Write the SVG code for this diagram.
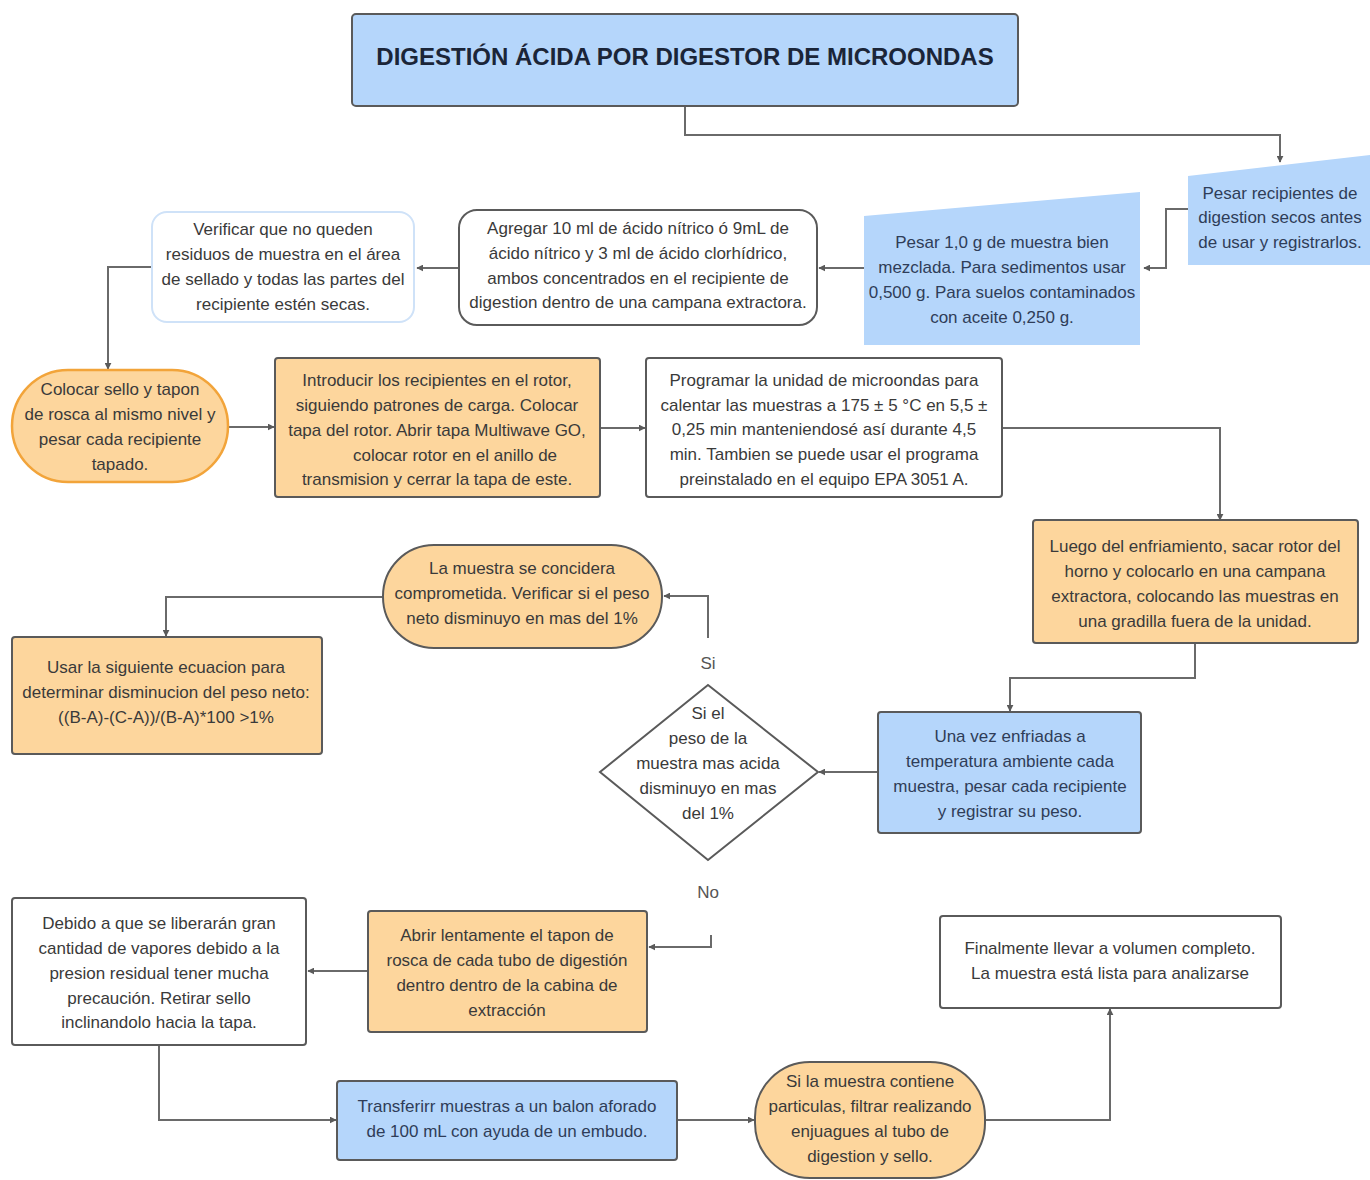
<svg xmlns="http://www.w3.org/2000/svg" width="1370" height="1180" viewBox="0 0 1370 1180">
  <style>
    text { font-family: "Liberation Sans", Arial, sans-serif; font-size: 17px; fill: #3a3a3a; text-anchor: middle; }
    .title { font-size: 24px; font-weight: bold; fill: #1b2538; }
    .onblue { fill: #2f3d58; }
    .lbl { fill: #555; }
    .blue { fill: #b5d6fb; stroke: #5a5a5a; stroke-width: 2; }
    .blueflat { fill: #b5d6fb; stroke: none; }
    .orange { fill: #fdd69d; stroke: #5a5a5a; stroke-width: 2; }
    .orangeedge { fill: #fdd69d; stroke: #f2a43a; stroke-width: 2.5; }
    .white { fill: #ffffff; stroke: #5a5a5a; stroke-width: 2; }
    .paleedge { fill: #ffffff; stroke: #cfe2f8; stroke-width: 2; }
    .conn { fill: none; stroke: #6a6a6a; stroke-width: 2; }
  </style>
  <defs>
    <marker id="arrow" viewBox="0 0 10 10" refX="9" refY="5" markerWidth="7" markerHeight="7" orient="auto" markerUnits="userSpaceOnUse">
      <path d="M0,0 L10,5 L0,10 z" fill="#5a5a5a"/>
    </marker>
  </defs>
  <rect width="1370" height="1180" fill="#ffffff"/>

  <!-- connectors -->
  <g id="connectors">
    <path class="conn" d="M685,106 V135 H1280 V162" marker-end="url(#arrow)"/>
    <path class="conn" d="M1188,209 H1166 V268 H1144" marker-end="url(#arrow)"/>
    <path class="conn" d="M864,268 H819" marker-end="url(#arrow)"/>
    <path class="conn" d="M459,268 H417" marker-end="url(#arrow)"/>
    <path class="conn" d="M152,267 H108 V369" marker-end="url(#arrow)"/>
    <path class="conn" d="M228,427 H274" marker-end="url(#arrow)"/>
    <path class="conn" d="M600,428 H645" marker-end="url(#arrow)"/>
    <path class="conn" d="M1002,428 H1220 V520" marker-end="url(#arrow)"/>
    <path class="conn" d="M1195,643 V678 H1010 V711" marker-end="url(#arrow)"/>
    <path class="conn" d="M878,772 H819" marker-end="url(#arrow)"/>
    <path class="conn" d="M708,638 V596 H664" marker-end="url(#arrow)"/>
    <path class="conn" d="M383,597 H166 V636" marker-end="url(#arrow)"/>
    <path class="conn" d="M711,935 V947 H649" marker-end="url(#arrow)"/>
    <path class="conn" d="M368,971 H308" marker-end="url(#arrow)"/>
    <path class="conn" d="M159,1045 V1120 H336" marker-end="url(#arrow)"/>
    <path class="conn" d="M677,1120 H754" marker-end="url(#arrow)"/>
    <path class="conn" d="M985,1120 H1110 V1009" marker-end="url(#arrow)"/>
    <text class="lbl" x="708" y="669">Si</text>
    <text class="lbl" x="708" y="898">No</text>
  </g>

  <g id="title">
    <rect class="blue" x="352" y="14" width="666" height="92" rx="4"/>
    <text class="title" x="685" y="65">DIGESTIÓN ÁCIDA POR DIGESTOR DE MICROONDAS</text>
  </g>

  <g id="pesar-recipientes">
    <polygon class="blueflat" points="1188,176 1370,155 1370,265 1188,265"/>
    <text class="onblue" x="1280" y="199">Pesar recipientes de</text>
    <text class="onblue" x="1280" y="223">digestion secos antes</text>
    <text class="onblue" x="1280" y="248">de usar y registrarlos.</text>
  </g>

  <g id="pesar-muestra">
    <polygon class="blueflat" points="864,216 1140,192 1140,345 864,345"/>
    <text class="onblue" x="1002" y="248">Pesar 1,0 g de muestra bien</text>
    <text class="onblue" x="1002" y="273">mezclada. Para sedimentos usar</text>
    <text class="onblue" x="1002" y="298">0,500 g. Para suelos contaminados</text>
    <text class="onblue" x="1002" y="323">con aceite 0,250 g.</text>
  </g>

  <g id="agregar">
    <rect class="white" x="459" y="210" width="358" height="115" rx="18"/>
    <text x="638" y="234">Agregar 10 ml de ácido nítrico ó 9mL de</text>
    <text x="638" y="259">ácido nítrico y 3 ml de ácido clorhídrico,</text>
    <text x="638" y="284">ambos concentrados en el recipiente de</text>
    <text x="638" y="308">digestion dentro de una campana extractora.</text>
  </g>

  <g id="verificar">
    <rect class="paleedge" x="152" y="212" width="262" height="110" rx="15"/>
    <text x="283" y="235">Verificar que no queden</text>
    <text x="283" y="260">residuos de muestra en el área</text>
    <text x="283" y="285">de sellado y todas las partes del</text>
    <text x="283" y="310">recipiente estén secas.</text>
  </g>

  <g id="colocar-sello">
    <rect class="orangeedge" x="12" y="370" width="216" height="112" rx="56"/>
    <text x="120" y="395">Colocar sello y tapon</text>
    <text x="120" y="420">de rosca al mismo nivel y</text>
    <text x="120" y="445">pesar cada recipiente</text>
    <text x="120" y="470">tapado.</text>
  </g>

  <g id="introducir">
    <rect class="orange" x="275" y="358" width="325" height="139" rx="3"/>
    <text x="437" y="386">Introducir los recipientes en el rotor,</text>
    <text x="437" y="411">siguiendo patrones de carga. Colocar</text>
    <text x="437" y="436">tapa del rotor. Abrir tapa Multiwave GO,</text>
    <text x="455" y="461">colocar rotor en el anillo de</text>
    <text x="437" y="485">transmision y cerrar la tapa de este.</text>
  </g>

  <g id="programar">
    <rect class="white" x="646" y="358" width="356" height="139" rx="3"/>
    <text x="824" y="386">Programar la unidad de microondas para</text>
    <text x="824" y="411">calentar las muestras a 175 ± 5 °C en 5,5 ±</text>
    <text x="824" y="435">0,25 min manteniendosé así durante 4,5</text>
    <text x="824" y="460">min.  Tambien se puede usar el programa</text>
    <text x="824" y="485">preinstalado en el equipo EPA 3051 A.</text>
  </g>

  <g id="luego">
    <rect class="orange" x="1033" y="520" width="325" height="123" rx="3"/>
    <text x="1195" y="552">Luego del enfriamiento, sacar rotor del</text>
    <text x="1195" y="577">horno y colocarlo en una campana</text>
    <text x="1195" y="602">extractora, colocando las muestras en</text>
    <text x="1195" y="627">una gradilla fuera de la unidad.</text>
  </g>

  <g id="una-vez">
    <rect class="blue" x="878" y="712" width="263" height="121" rx="3"/>
    <text class="onblue" x="1010" y="742">Una vez enfriadas a</text>
    <text class="onblue" x="1010" y="767">temperatura ambiente cada</text>
    <text class="onblue" x="1010" y="792">muestra, pesar cada recipiente</text>
    <text class="onblue" x="1010" y="817">y registrar su peso.</text>
  </g>

  <g id="decision">
    <polygon class="white" points="708,685 818,772 708,860 600,772"/>
    <text x="708" y="719">Si el</text>
    <text x="708" y="744">peso de la</text>
    <text x="708" y="769">muestra mas acida</text>
    <text x="708" y="794">disminuyo en mas</text>
    <text x="708" y="819">del 1%</text>
  </g>

  <g id="comprometida">
    <rect class="orange" x="383" y="545" width="279" height="103" rx="51"/>
    <text x="522" y="574">La muestra se concidera</text>
    <text x="522" y="599">comprometida. Verificar si el peso</text>
    <text x="522" y="624">neto disminuyo en mas del 1%</text>
  </g>

  <g id="ecuacion">
    <rect class="orange" x="12" y="637" width="310" height="117" rx="3"/>
    <text x="166" y="673">Usar la siguiente ecuacion para</text>
    <text x="166" y="698">determinar disminucion del peso neto:</text>
    <text x="166" y="723">((B-A)-(C-A))/(B-A)*100 &gt;1%</text>
  </g>

  <g id="abrir">
    <rect class="orange" x="368" y="911" width="279" height="121" rx="3"/>
    <text x="507" y="941">Abrir lentamente el tapon de</text>
    <text x="507" y="966">rosca de cada tubo de digestión</text>
    <text x="507" y="991">dentro dentro de la cabina de</text>
    <text x="507" y="1016">extracción</text>
  </g>

  <g id="debido">
    <rect class="white" x="12" y="898" width="294" height="147" rx="3"/>
    <text x="159" y="929">Debido a que se liberarán gran</text>
    <text x="159" y="954">cantidad de vapores debido a la</text>
    <text x="159" y="979">presion residual tener mucha</text>
    <text x="159" y="1004">precaución. Retirar sello</text>
    <text x="159" y="1028">inclinandolo hacia la tapa.</text>
  </g>

  <g id="transferir">
    <rect class="blue" x="337" y="1081" width="340" height="79" rx="3"/>
    <text class="onblue" x="507" y="1112">Transferirr muestras a un balon aforado</text>
    <text class="onblue" x="507" y="1137">de 100 mL con ayuda de un embudo.</text>
  </g>

  <g id="filtrar">
    <rect class="orange" x="755" y="1062" width="230" height="116" rx="55"/>
    <text x="870" y="1087">Si la muestra contiene</text>
    <text x="870" y="1112">particulas, filtrar realizando</text>
    <text x="870" y="1137">enjuagues al tubo de</text>
    <text x="870" y="1162">digestion y sello.</text>
  </g>

  <g id="finalmente">
    <rect class="white" x="940" y="916" width="341" height="92" rx="3"/>
    <text x="1110" y="954">Finalmente llevar a volumen completo.</text>
    <text x="1110" y="979">La muestra está lista para analizarse</text>
  </g>
</svg>
